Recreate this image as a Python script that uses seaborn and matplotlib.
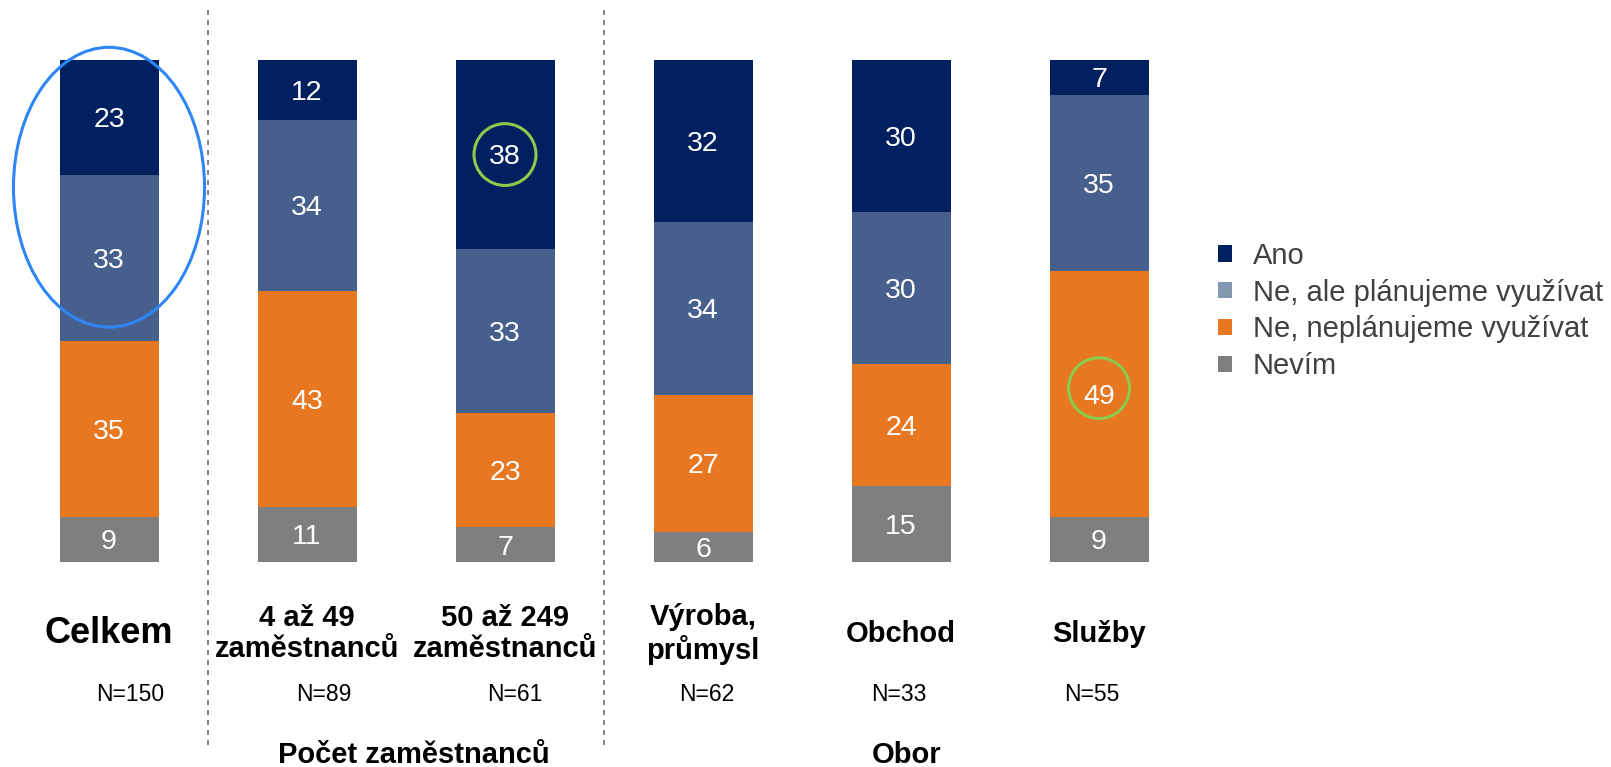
import matplotlib.pyplot as plt
import seaborn as sns
import pandas as pd
from matplotlib.patches import Patch, Ellipse

sns.set_style("white")
plt.rcParams['font.family'] = ['Liberation Sans', 'DejaVu Sans']

# data (percent)
categories = ["Celkem", "4 až 49\nzaměstnanců", "50 až 249\nzaměstnanců",
              "Výroba,\nprůmysl", "Obchod", "Služby"]
n_labels = ["N=150", "N=89", "N=61", "N=62", "N=33", "N=55"]
ano = [23, 12, 38, 32, 30, 7]
ne_plan = [33, 34, 33, 34, 30, 35]
ne_neplan = [35, 43, 23, 27, 24, 49]
nevim = [9, 11, 7, 6, 15, 9]
series = ["Ano", "Ne, ale plánujeme využívat", "Ne, neplánujeme využívat", "Nevím"]
groups = ["Počet zaměstnanců", "Obor"]

bar_colors = ["#002060", "#475F8C", "#E87722", "#7F7F7F"]
legend_colors = ["#002060", "#8497B0", "#E87722", "#7F7F7F"]

df = pd.DataFrame({"cat": categories, "Ano": ano, "Ne_plan": ne_plan,
                   "Ne_neplan": ne_neplan, "Nevim": nevim})
total = df[["Ano", "Ne_plan", "Ne_neplan", "Nevim"]].sum(axis=1)
# stacked from bottom: Nevim, Ne_neplan, Ne_plan, Ano (scaled to 100)
df["c1"] = df["Nevim"] / total * 100
df["c2"] = (df["Nevim"] + df["Ne_neplan"]) / total * 100
df["c3"] = (df["Nevim"] + df["Ne_neplan"] + df["Ne_plan"]) / total * 100
df["c4"] = 100.0

fig = plt.figure(figsize=(16.11, 7.67), dpi=100)
ax = fig.add_axes([10 / 1611, 1 - 562 / 767, 1188 / 1611, (562 - 59.6) / 767])

for col, color in zip(["c4", "c3", "c2", "c1"], bar_colors):
    sns.barplot(data=df, x="cat", y=col, color=color, width=0.5,
                saturation=1, ax=ax, linewidth=0)

ax.set_xlim(-0.5, 5.5)
ax.set_ylim(0, 100)
ax.axis("off")

# value labels
for i in range(len(categories)):
    bottoms = [0, df["c1"][i], df["c2"][i], df["c3"][i]]
    tops = [df["c1"][i], df["c2"][i], df["c3"][i], 100]
    vals = [nevim[i], ne_neplan[i], ne_plan[i], ano[i]]
    for b, t, v in zip(bottoms, tops, vals):
        ax.text(i, (b + t) / 2, str(v), ha="center", va="center_baseline",
                color="white", fontsize=20.5)

# category labels
tr = ax.get_xaxis_transform()
for i, c in enumerate(categories):
    size = 26 if i == 0 else 21
    ax.text(i, -0.143, c, transform=tr, ha="center", va="center",
            fontsize=size, fontweight="bold", color="black", linespacing=1.15)

n_shift = [0.106, 0.084, 0.048, 0.02, -0.01, -0.035]
for i, n in enumerate(n_labels):
    ax.text(i + n_shift[i], -0.264, n, transform=tr, ha="center", va="center",
            fontsize=16.5, color="black")

ax.text(1.54, -0.384, groups[0], transform=tr, ha="center", va="center",
        fontsize=21, fontweight="bold", color="black")
ax.text(4.03, -0.384, groups[1], transform=tr, ha="center", va="center",
        fontsize=21, fontweight="bold", color="black")

# dashed separators
for x in [0.5, 2.5]:
    ax.plot([x, x], [1.099, -0.364], transform=tr, color="#707070",
            linestyle=(0, (3, 3)), linewidth=1.2, clip_on=False)

# highlight marks
ax.add_patch(Ellipse((0, 74.6), 0.965, 55.7, fill=False, edgecolor="#2E86F5",
                     linewidth=2.2, clip_on=False))
ax.add_patch(Ellipse((2, 81.1), 0.313, 12.3, fill=False, edgecolor="#8CCB4B",
                     linewidth=2.2))
ax.add_patch(Ellipse((5, 34.6), 0.308, 12.1, fill=False, edgecolor="#8CCB4B",
                     linewidth=2.2))

handles = [Patch(facecolor=c, edgecolor="none") for c in legend_colors]
fig.legend(handles, series, loc="center left", bbox_to_anchor=(1218 / 1611, 1 - 311 / 767),
           frameon=False, fontsize=21, handlelength=0.48, handleheight=0.48,
           handletextpad=0.72, labelspacing=0.3, borderpad=0, borderaxespad=0,
           labelcolor="#404040")

fig.savefig("out.png", dpi=100)
